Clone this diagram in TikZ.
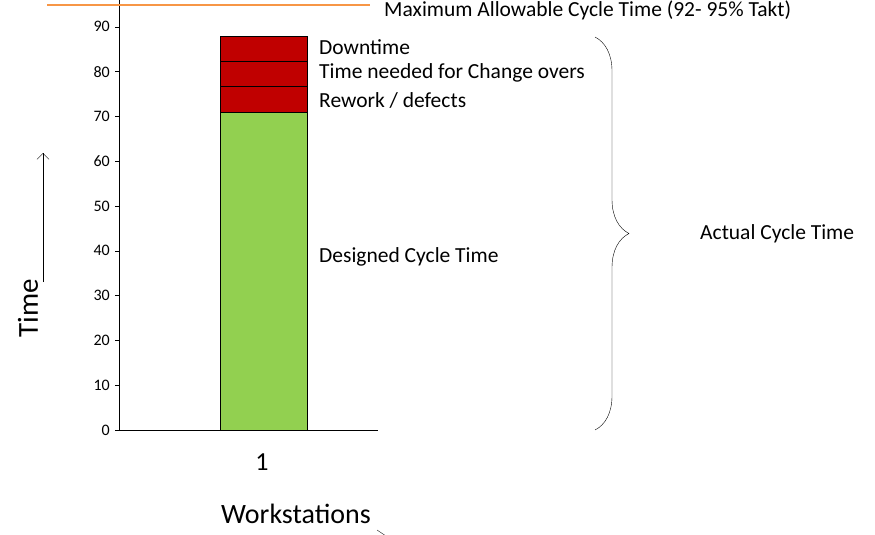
\documentclass[tikz,border=0pt]{standalone}
\usepackage{fontspec}
\setmainfont{Carlito}
\usetikzlibrary{positioning,arrows.meta,decorations.pathreplacing}
\definecolor{barred}{RGB}{192,0,0}
\definecolor{bargreen}{RGB}{146,208,80}
\definecolor{taktorange}{RGB}{247,150,70}
\begin{document}
\begin{tikzpicture}[x=1pt,y=-1pt,
  segment/.style={draw=black, thick},
  lbl/.style={anchor=west, inner sep=0pt, font=\fontsize{21.5}{24}\selectfont},
  ticklabel/.style={anchor=east, inner sep=0pt, font=\fontsize{16}{18}\selectfont}
]
\useasboundingbox (0,0) rectangle (875,535);

% ==========================================================
% Axes
% ==========================================================
\coordinate (yTop) at (119,0);
\coordinate (origin) at (119,430);
\coordinate (xEnd) at (378,430);
\draw[thick] (yTop) -- (origin) -- (xEnd);
\foreach \v in {0,10,...,90}{
  \draw (115,430-4.48*\v) -- (119,430-4.48*\v);
  \node[ticklabel] (tick\v) at (110,430-4.48*\v) {\v};
}

% ==========================================================
% Bar segments
% ==========================================================
\fill[bargreen] (220,430) rectangle (307,112);
\fill[barred] (220,112) rectangle (307,36);
\draw[segment] (220,430) rectangle (307,36);
\draw[segment] (220,112) -- (307,112);
\draw[segment] (220,86) -- (307,86);
\draw[segment] (220,61) -- (307,61);

% ==========================================================
% Labels
% ==========================================================
\node[lbl] (down) at (319,47) {Downtime};
\node[lbl] (change) at (319,73) {Time needed for Change overs};
\node[lbl] (rework) at (319,100) {Rework / defects};
\node[lbl] (design) at (319,257) {Designed Cycle Time};

\draw[taktorange, line width=2pt] (47,5) -- (370,5);
\node[lbl] (takt) at (384,10) {Maximum Allowable Cycle Time (92- 95\% Takt)};

\coordinate (braceTop) at (595,37);
\coordinate (braceBot) at (595,430);
\draw[decorate, decoration={brace, amplitude=34pt, aspect=0.5}] (braceTop) -- (braceBot);
\node[lbl] (actual) at (700,234) {Actual Cycle Time};

\node[rotate=90, font=\fontsize{29}{32}\selectfont] (time) at (28,308) {Time};
\coordinate (arrowTail) at (43,282);
\coordinate (arrowHead) at (43,153);
\draw[-{Straight Barb[length=6pt]}] (arrowTail) -- (arrowHead);

\node[font=\fontsize{26}{30}\selectfont] (one) at (262,462) {1};
\node[font=\fontsize{28}{32}\selectfont] (work) at (296,514) {Workstations};
\coordinate (tickA) at (377,530);
\coordinate (tickB) at (386,536);
\draw (tickA) -- (tickB);

\end{tikzpicture}
\end{document}
